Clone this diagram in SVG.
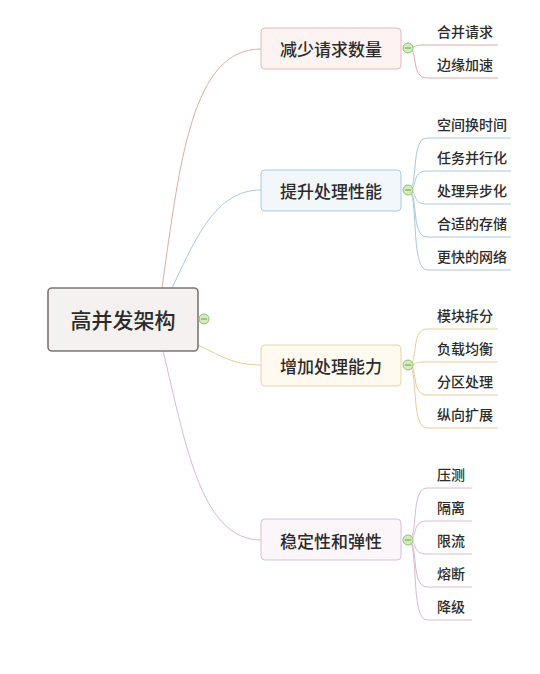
<svg xmlns="http://www.w3.org/2000/svg" width="540" height="674" viewBox="0 0 540 674">
<style>
text{font-family:"Noto Sans CJK SC","Noto Sans",sans-serif;fill:#2b2b2b;font-weight:500;dominant-baseline:central}
.root{font-size:21px;text-anchor:middle}
.br{font-size:17px;text-anchor:middle}
.lf{font-size:14px}
.c path{fill:none;stroke-width:1}
.p{stroke:#e0aaaa}.b{stroke:#a8c8e0}.y{stroke:#e6cd98}.v{stroke:#d6bad4}
.tg circle{fill:#d3ebbd;stroke:#8fc36c;stroke-width:1}
.tg line{stroke:#6f9a56;stroke-width:1}
</style>
<rect width="540" height="674" fill="#fff"/>
<g id="connectors" class="c">
<path class="p" d="M162,288 C180,160 192,49 261,49"/>
<path class="b" d="M172,288 C195,240 215,190 261,190"/>
<path class="y" d="M198,345 C225,358 235,365 261,365"/>
<path class="v" d="M163,351 C185,440 200,540 261,540"/>
<path class="p" d="M408,48 C416,48 412,45 424,45 H498"/>
<path class="p" d="M408,48 C419,48 410,78 427,78 H498"/>
<path class="b" d="M408,190 C419,190 410,138 427,138 H511"/>
<path class="b" d="M408,190 C419,190 410,171 427,171 H511"/>
<path class="b" d="M408,190 C419,190 410,204 427,204 H511"/>
<path class="b" d="M408,190 C419,190 410,237 427,237 H511"/>
<path class="b" d="M408,190 C419,190 410,270 427,270 H511"/>
<path class="y" d="M408,365 C419,365 410,329 427,329 H498"/>
<path class="y" d="M408,365 C419,365 410,362 427,362 H498"/>
<path class="y" d="M408,365 C419,365 410,395 427,395 H498"/>
<path class="y" d="M408,365 C419,365 410,428 427,428 H498"/>
<path class="v" d="M408,540 C419,540 410,488 427,488 H472"/>
<path class="v" d="M408,540 C419,540 410,521 427,521 H472"/>
<path class="v" d="M408,540 C419,540 410,554 427,554 H472"/>
<path class="v" d="M408,540 C419,540 410,587 427,587 H472"/>
<path class="v" d="M408,540 C419,540 410,620 427,620 H472"/>
</g>
<g id="root">
<rect x="48" y="288" width="150" height="63" rx="4" fill="#f4f1f0" stroke="#7d7472" stroke-width="1.6"/>
<text class="root" x="123" y="319">高并发架构</text>
<g class="tg"><circle cx="204" cy="319" r="5"/><line x1="201" y1="319" x2="207" y2="319"/></g>
</g>
<g id="n1">
<rect x="261" y="28" width="140" height="41" rx="4" fill="#fdf3f3" stroke="#e6b8b8"/>
<text class="br" x="331" y="48">减少请求数量</text>
<g class="tg"><circle cx="408" cy="48" r="5"/><line x1="405" y1="48" x2="411" y2="48"/></g>
</g>
<g id="n2">
<rect x="261" y="170" width="140" height="41" rx="4" fill="#f2f7fc" stroke="#aac9e1"/>
<text class="br" x="331" y="190">提升处理性能</text>
<g class="tg"><circle cx="408" cy="190" r="5"/><line x1="405" y1="190" x2="411" y2="190"/></g>
</g>
<g id="n3">
<rect x="261" y="345" width="140" height="41" rx="4" fill="#fefaf0" stroke="#e9d4a2"/>
<text class="br" x="331" y="365">增加处理能力</text>
<g class="tg"><circle cx="408" cy="365" r="5"/><line x1="405" y1="365" x2="411" y2="365"/></g>
</g>
<g id="n4">
<rect x="261" y="519" width="140" height="41" rx="4" fill="#fcf6fb" stroke="#d9bfd7"/>
<text class="br" x="331" y="540">稳定性和弹性</text>
<g class="tg"><circle cx="408" cy="540" r="5"/><line x1="405" y1="540" x2="411" y2="540"/></g>
</g>
<g id="l1a"><text class="lf" x="437" y="31">合并请求</text></g>
<g id="l1b"><text class="lf" x="437" y="64">边缘加速</text></g>
<g id="l2a"><text class="lf" x="437" y="124">空间换时间</text></g>
<g id="l2b"><text class="lf" x="437" y="157">任务并行化</text></g>
<g id="l2c"><text class="lf" x="437" y="190">处理异步化</text></g>
<g id="l2d"><text class="lf" x="437" y="223">合适的存储</text></g>
<g id="l2e"><text class="lf" x="437" y="256">更快的网络</text></g>
<g id="l3a"><text class="lf" x="437" y="315">模块拆分</text></g>
<g id="l3b"><text class="lf" x="437" y="348">负载均衡</text></g>
<g id="l3c"><text class="lf" x="437" y="381">分区处理</text></g>
<g id="l3d"><text class="lf" x="437" y="414">纵向扩展</text></g>
<g id="l4a"><text class="lf" x="437" y="474">压测</text></g>
<g id="l4b"><text class="lf" x="437" y="507">隔离</text></g>
<g id="l4c"><text class="lf" x="437" y="540">限流</text></g>
<g id="l4d"><text class="lf" x="437" y="573">熔断</text></g>
<g id="l4e"><text class="lf" x="437" y="606">降级</text></g>
</svg>
